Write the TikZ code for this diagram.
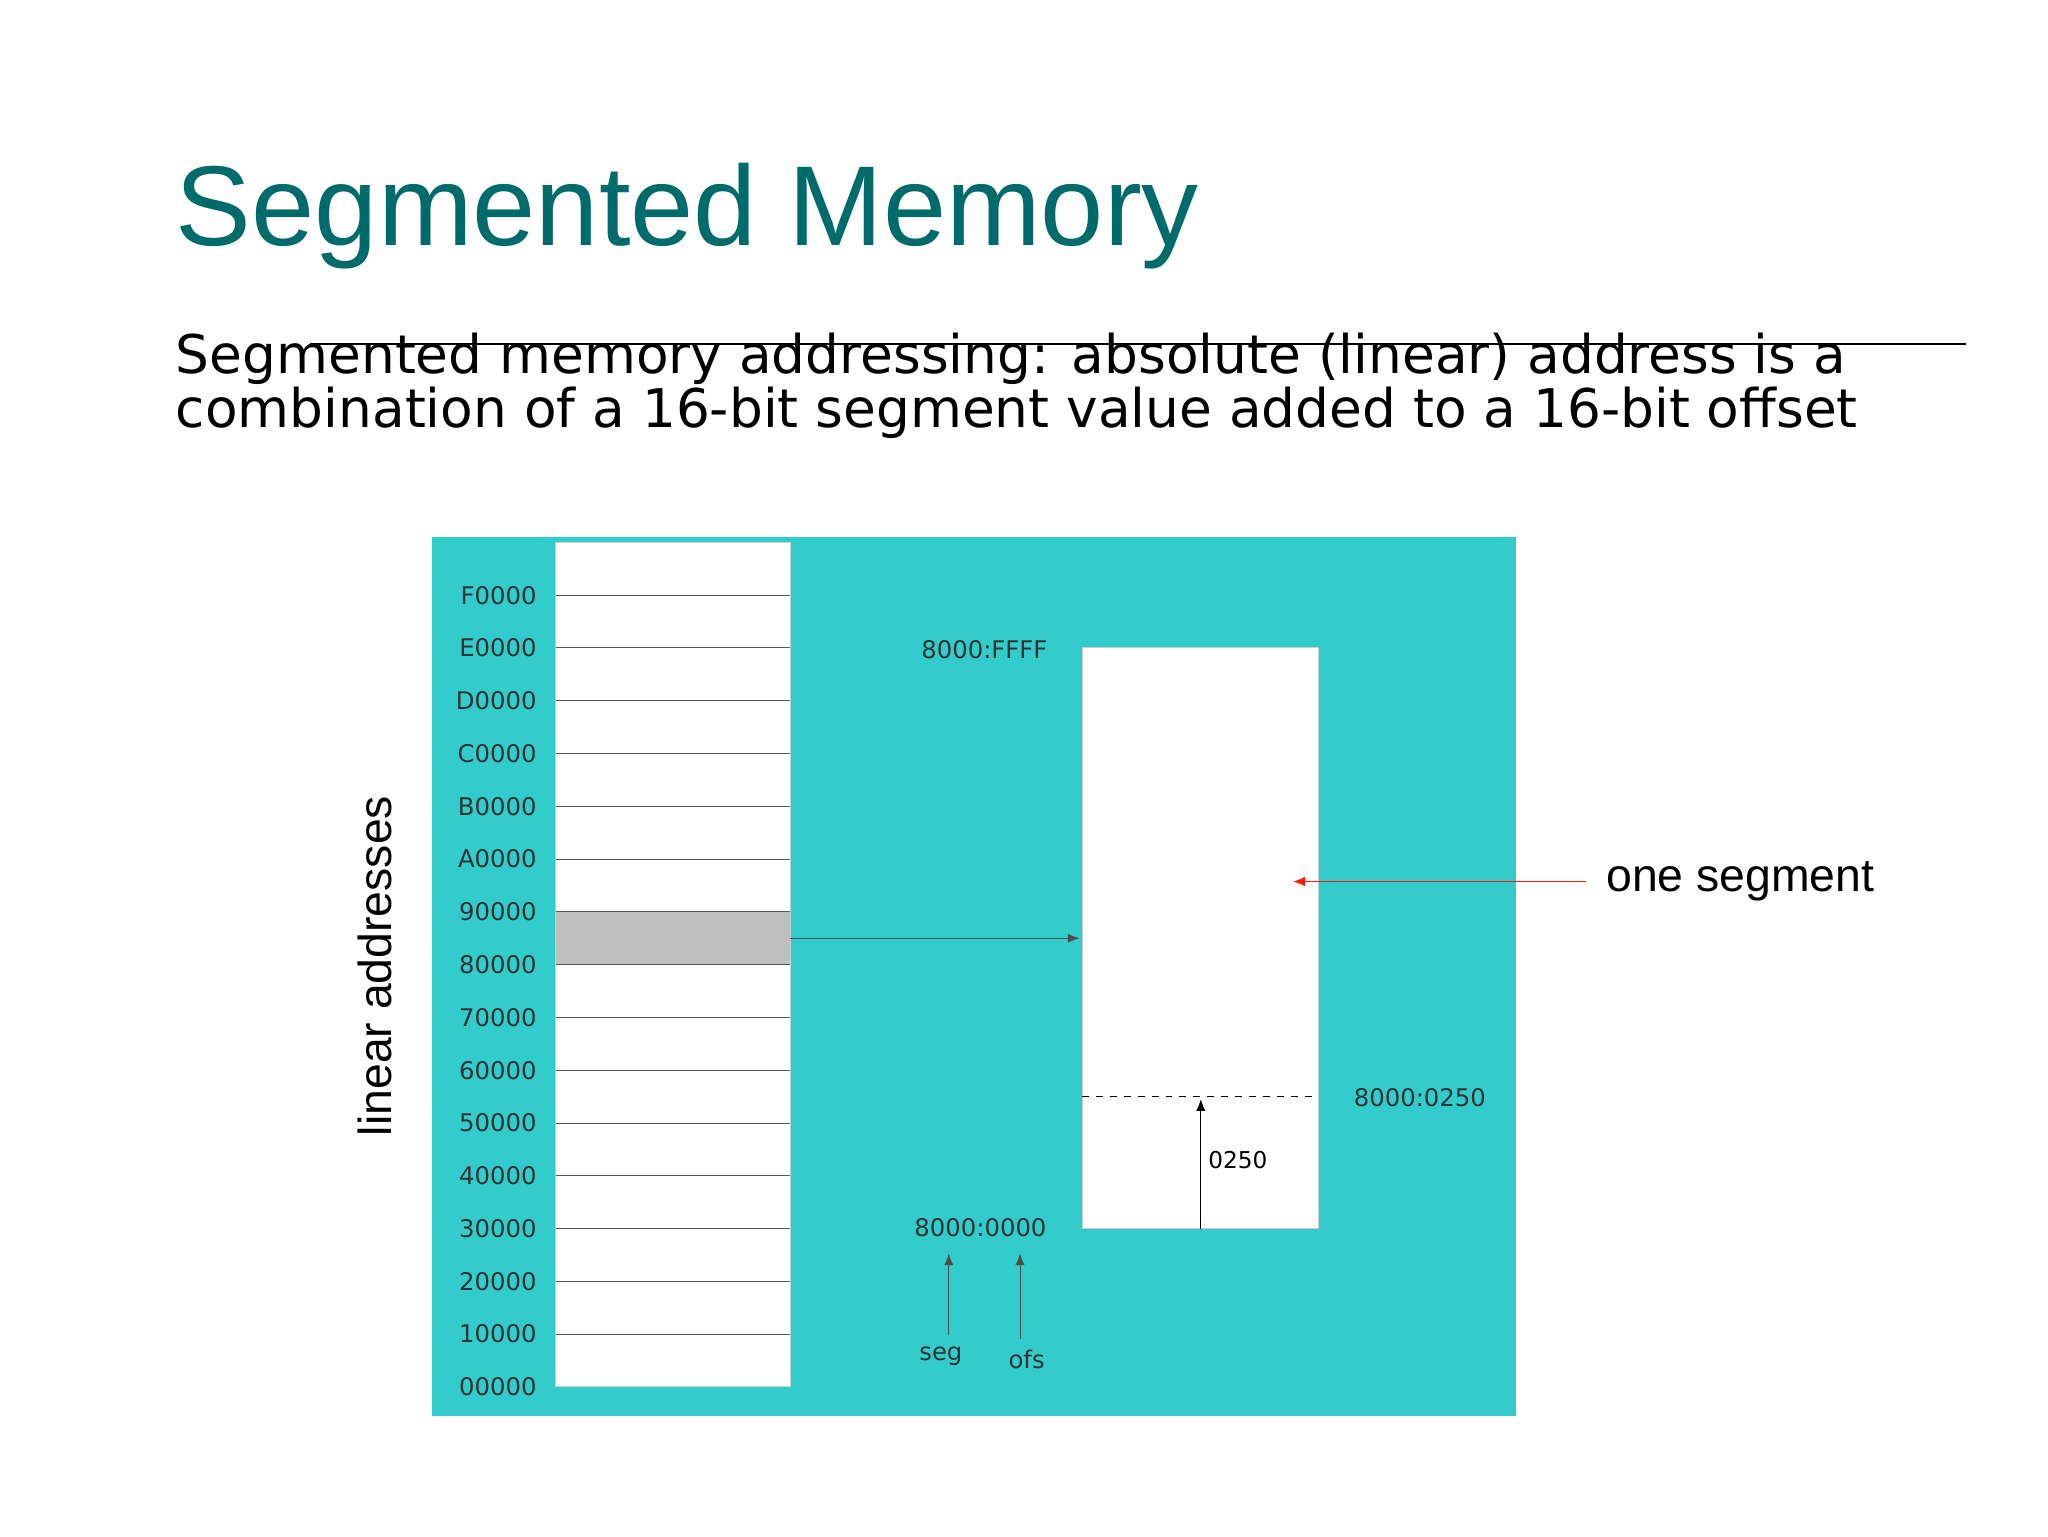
\documentclass[tikz,border=0pt]{standalone}
\usepackage{fontspec}
\setmainfont{Liberation Sans}
\newfontfamily\dvs{DejaVu Sans}
\definecolor{teal1}{HTML}{006B6B}
\definecolor{cy}{HTML}{33CCCC}
\definecolor{lab}{HTML}{333333}
\begin{document}
\begin{tikzpicture}[x=0.02cm,y=-0.02cm,
  addr/.style={font=\fontsize{10.5}{12}\selectfont\dvs,text=lab,inner sep=0},
  tip/.style={-{Latex[length=5pt,width=4pt]}}]
\usetikzlibrary{arrows.meta}
\useasboundingbox[fill=white] (0,0) rectangle (1552,1164);
\node[anchor=base west,inner sep=0,text=teal1,font=\fontsize{49}{50}\selectfont] (title) at (133,186) {Segmented Memory};
\draw[thick] (235,261) -- (1490,261);
\node[anchor=base west,inner sep=0,align=left,font=\fontsize{23}{22}\selectfont\dvs] (body) at (133,324) {Segmented memory addressing: absolute (linear) address is a\\combination of a 16-bit segment value added to a 16-bit offset};
\fill[cy] (327,407) rectangle (1149,1073);
\draw[fill=white,draw=gray!40] (421,411) rectangle (599,1051);
\fill[gray!50] (421,691) rectangle (599,731);
\foreach \i/\t in {0/F0000,1/E0000,2/D0000,3/C0000,4/B0000,5/A0000,6/90000,7/80000,8/70000,9/60000,10/50000,11/40000,12/30000,13/20000,14/10000,15/00000}{
  \pgfmathsetmacro\yy{451+40*\i}
  \ifnum\i<15 \draw[gray!70!black] (421,\yy) -- (599,\yy);\fi
  \node[addr,anchor=east] (a\i) at (407,\yy) {\t};
}
\node[rotate=90,font=\fontsize{20}{22}\selectfont] (lin) at (284,732) {linear addresses};
\draw[fill=white,draw=gray!40] (820,491) rectangle (999,931);
\draw[tip,gray!60!black] (599,711) -- (818,711);
\draw[dashed] (820,831) -- (999,831);
\coordinate (b0) at (910,931); \coordinate (b1) at (910,833);
\draw[tip] (b0) -- (b1);
\node[addr,font=\fontsize{10}{12}\selectfont\dvs,text=black] (o250) at (938,879) {0250};
\node[addr] (ffff) at (746,492) {8000:FFFF};
\node[addr] (m250) at (1076,832) {8000:0250};
\node[addr] (m000) at (743,930) {8000:0000};
\node[addr] (seg) at (713,1028) {seg};
\node[addr] (ofs) at (778,1030) {ofs};
\draw[tip,gray!60!black] (719,1012) -- (719,950);
\draw[tip,gray!60!black] (773,1015) -- (773,950);
\node[anchor=west,inner sep=0,font=\fontsize{20}{22}\selectfont] (one) at (1217,668) {one segment};
\coordinate (r0) at (1202,668); \coordinate (r1) at (980,668);
\draw[tip,red!80!orange] (r0) -- (r1);
\end{tikzpicture}
\end{document}
